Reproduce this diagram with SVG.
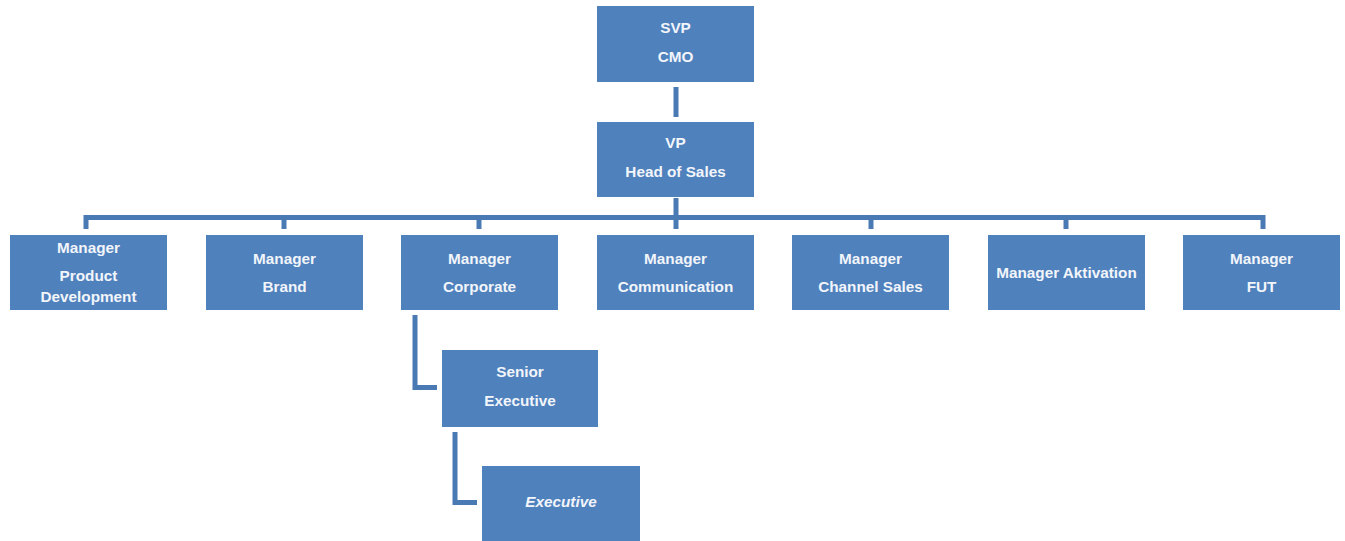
<svg xmlns="http://www.w3.org/2000/svg" width="1345" height="541" viewBox="0 0 1345 541">
<style>
.box{fill:#4f81bd;}
.t{font-family:"Liberation Sans",Arial,sans-serif;font-weight:bold;font-size:15.3px;fill:#f2f5fa;text-anchor:middle;}
.i{font-style:italic;}
.c{fill:none;stroke:#4a7ab4;stroke-width:5;}
</style>
<rect width="1345" height="541" fill="#ffffff"/>
<g id="connectors">
<line class="c" x1="676" y1="87" x2="676" y2="117"/>
<line class="c" x1="676" y1="198" x2="676" y2="217"/>
<polyline class="c" points="86,229 86,217.5 1263,217.5 1263,229"/>
<line class="c" x1="284" y1="217" x2="284" y2="229"/>
<line class="c" x1="479" y1="217" x2="479" y2="229"/>
<line class="c" x1="676" y1="217" x2="676" y2="229"/>
<line class="c" x1="871" y1="217" x2="871" y2="229"/>
<line class="c" x1="1066" y1="217" x2="1066" y2="229"/>
<polyline class="c" points="415,315 415,387.5 437,387.5"/>
<polyline class="c" points="455,432 455,502.5 477,502.5"/>
</g>
<g id="svp"><rect class="box" x="597" y="6" width="157" height="76"/><text class="t" x="675.5" y="33">SVP</text><text class="t" x="675.5" y="62">CMO</text></g>
<g id="vp"><rect class="box" x="597" y="122" width="157" height="75"/><text class="t" x="675.5" y="148">VP</text><text class="t" x="675.5" y="177">Head of Sales</text></g>
<g id="m-product"><rect class="box" x="10" y="235" width="157" height="75"/><text class="t" x="88.5" y="253">Manager</text><text class="t" x="88.5" y="281">Product</text><text class="t" x="88.5" y="302">Development</text></g>
<g id="m-brand"><rect class="box" x="206" y="235" width="157" height="75"/><text class="t" x="284.5" y="264">Manager</text><text class="t" x="284.5" y="292">Brand</text></g>
<g id="m-corporate"><rect class="box" x="401" y="235" width="157" height="75"/><text class="t" x="479.5" y="264">Manager</text><text class="t" x="479.5" y="292">Corporate</text></g>
<g id="m-communication"><rect class="box" x="597" y="235" width="157" height="75"/><text class="t" x="675.5" y="264">Manager</text><text class="t" x="675.5" y="292">Communication</text></g>
<g id="m-channel"><rect class="box" x="792" y="235" width="157" height="75"/><text class="t" x="870.5" y="264">Manager</text><text class="t" x="870.5" y="292">Channel Sales</text></g>
<g id="m-aktivation"><rect class="box" x="988" y="235" width="157" height="75"/><text class="t" x="1066.5" y="278">Manager Aktivation</text></g>
<g id="m-fut"><rect class="box" x="1183" y="235" width="157" height="75"/><text class="t" x="1261.5" y="264">Manager</text><text class="t" x="1261.5" y="292">FUT</text></g>
<g id="senior"><rect class="box" x="442" y="350" width="156" height="77"/><text class="t" x="520" y="377">Senior</text><text class="t" x="520" y="406">Executive</text></g>
<g id="executive"><rect class="box" x="482" y="466" width="158" height="80"/><text class="t i" x="561" y="507">Executive</text></g>
</svg>
